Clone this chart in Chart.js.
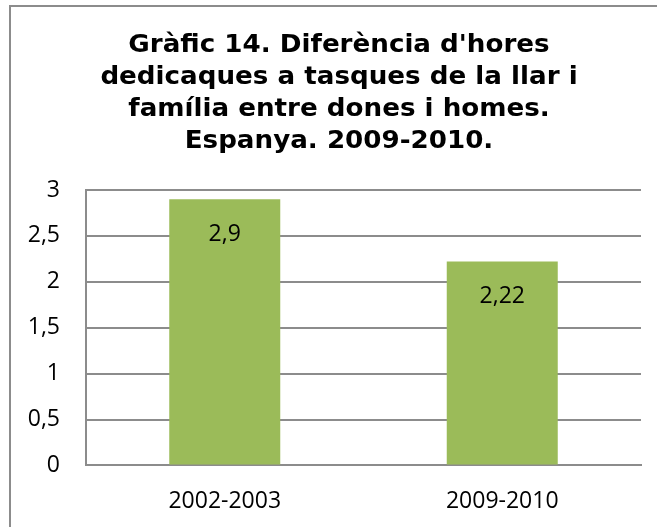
<!DOCTYPE html>
<html>
<head>
<meta charset="utf-8">
<script src="https://cdn.jsdelivr.net/npm/chart.js@4/dist/chart.umd.min.js"></script>
<style>
  html, body { margin: 0; padding: 0; background: #fff; }
  #wrap { position: relative; width: 657px; height: 527px; }
</style>
</head>
<body>
<div id="wrap"><canvas id="chart" width="657" height="527"></canvas></div>
<script>
const titleLines = [
  "Gràfic 14. Diferència d'hores",
  "dedicaques a tasques de la llar i",
  "família entre dones i homes.",
  "Espanya. 2009-2010."
];
const periods = ["2002-2003", "2009-2010"];
const hourDiff = [2.9, 2.22];

const comma = v => String(v).replace(".", ",");

// gray frame round the chart (cut off at right and bottom like the picture)
const framePlugin = {
  id: "frame",
  beforeDraw(chart) {
    const c = chart.ctx;
    c.save();
    c.strokeStyle = "#8c8c8c";
    c.lineWidth = 2;
    c.strokeRect(10, 6, 720, 600);
    c.restore();
  }
};

// title block, centred on the frame rather than the plot
const titleBlock = {
  id: "titleBlock",
  afterDraw(chart) {
    const c = chart.ctx;
    c.save();
    c.font = "bold 24px 'DejaVu Sans'";
    c.fillStyle = "#000";
    c.textAlign = "center";
    c.textBaseline = "alphabetic";
    c.translate(339, 0);
    c.scale(1.09, 1);
    titleLines.forEach((line, i) => {
      c.fillText(line, 0, 52 + i * 32);
    });
    c.restore();
  }
};

// value labels inside the top of each bar
const valueLabels = {
  id: "valueLabels",
  afterDatasetsDraw(chart) {
    const c = chart.ctx;
    const meta = chart.getDatasetMeta(0);
    c.save();
    c.font = "23px 'Open Sans'";
    c.fillStyle = "#000";
    c.textAlign = "center";
    c.textBaseline = "middle";
    meta.data.forEach((bar, i) => {
      c.fillText(comma(hourDiff[i]), bar.x, bar.y + 35);
    });
    c.restore();
  }
};

new Chart(document.getElementById("chart"), {
  type: "bar",
  data: {
    labels: periods,
    datasets: [{
      data: hourDiff,
      backgroundColor: "#9bbb59",
      barPercentage: 0.4,
      categoryPercentage: 1
    }]
  },
  options: {
    responsive: false,
    animation: false,
    layout: {
      padding: { left: 10, right: 16, top: 190, bottom: -10 }
    },
    plugins: {
      legend: { display: false },
      tooltip: { enabled: false },
      title: { display: false }
    },
    scales: {
      x: {
        grid: { display: false, drawTicks: false },
        border: { color: "#8c8c8c", width: 2 },
        ticks: {
          color: "#000",
          font: { family: "'Open Sans'", size: 23 },
          padding: 22
        }
      },
      y: {
        min: 0,
        max: 3,
        afterFit(scale) { scale.width = 76; },
        grid: { color: "#8c8c8c", lineWidth: 2, drawTicks: false },
        border: { color: "#8c8c8c", width: 2 },
        ticks: {
          stepSize: 0.5,
          color: "#000",
          font: { family: "'Open Sans'", size: 23 },
          padding: 26,
          callback: v => comma(v)
        }
      }
    }
  },
  plugins: [framePlugin, valueLabels, titleBlock]
});
</script>
</body>
</html>
